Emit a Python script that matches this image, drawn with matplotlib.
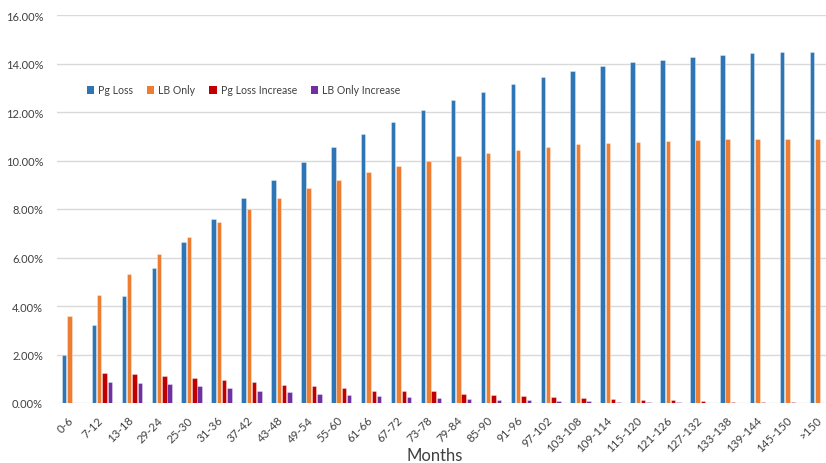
import matplotlib
matplotlib.use("Agg")
import matplotlib.pyplot as plt
import matplotlib.transforms as mtransforms
import numpy as np
from matplotlib.patches import Patch
from matplotlib.ticker import FuncFormatter, MultipleLocator

plt.rcParams['font.family'] = ['Lato', 'DejaVu Sans']

categories = ["0-6", "7-12", "13-18", "29-24", "25-30", "31-36", "37-42", "43-48",
              "49-54", "55-60", "61-66", "67-72", "73-78", "79-84", "85-90", "91-96",
              "97-102", "103-108", "109-114", "115-120", "121-126", "127-132",
              "133-138", "139-144", "145-150", ">150"]

pg_loss = [2.00, 3.22, 4.43, 5.58, 6.62, 7.59, 8.45, 9.21, 9.92, 10.54, 11.08, 11.59,
           12.08, 12.48, 12.82, 13.14, 13.43, 13.68, 13.88, 14.05, 14.14, 14.27,
           14.35, 14.42, 14.46, 14.49]
lb_only = [3.60, 4.46, 5.31, 6.13, 6.86, 7.46, 8.00, 8.47, 8.87, 9.21, 9.53, 9.76,
           10.00, 10.19, 10.32, 10.45, 10.56, 10.67, 10.72, 10.76, 10.82, 10.85,
           10.87, 10.90, 10.90, 10.89]
pg_loss_increase = [0.00, 1.22, 1.19, 1.11, 1.03, 0.95, 0.85, 0.76, 0.70, 0.62, 0.51,
                    0.48, 0.48, 0.39, 0.33, 0.30, 0.26, 0.22, 0.16, 0.14, 0.11, 0.09,
                    0.06, 0.04, 0.04, 0.00]
lb_only_increase = [0.00, 0.85, 0.82, 0.80, 0.72, 0.62, 0.51, 0.46, 0.39, 0.33, 0.27,
                    0.25, 0.22, 0.18, 0.14, 0.11, 0.09, 0.09, 0.06, 0.04, 0.04, 0.01,
                    0.00, 0.00, 0.00, 0.00]

series = [
    ("Pg Loss", pg_loss, "#2E75B6"),
    ("LB Only", lb_only, "#ED7D31"),
    ("Pg Loss Increase", pg_loss_increase, "#C00000"),
    ("LB Only Increase", lb_only_increase, "#7030A0"),
]

fig = plt.figure(figsize=(8.26, 4.64), dpi=100)
ax = fig.add_axes([57 / 826, 60 / 464, 778 / 826, 388 / 464])

x = np.arange(len(categories))
pitch = 0.177
width = 0.15
for i, (name, vals, color) in enumerate(series):
    ax.bar(x + (i - 1.5) * pitch, vals, width=width, color=color,
           edgecolor=(1, 1, 1, 0.6), linewidth=0.4, zorder=3)

ax.set_xlim(-0.5, len(categories) - 0.5)
ax.set_ylim(0, 16)
ax.yaxis.set_major_locator(MultipleLocator(2))
ax.yaxis.set_major_formatter(FuncFormatter(lambda v, p: f"{v:.2f}%"))
ax.grid(axis='y', color='#D9D9D9', linewidth=1.0, zorder=0)
ax.set_axisbelow(True)
for s in ax.spines.values():
    s.set_visible(False)

ax.set_xticks(x)
ax.set_xticklabels(categories, rotation=45, ha='right', rotation_mode='anchor')
ax.tick_params(axis='both', length=0, labelsize=8, colors='#404040')
ax.tick_params(axis='x', labelsize=8.3, pad=8)
ax.tick_params(axis='y', pad=10)

# nudge the rotated category labels slightly left
shift = mtransforms.ScaledTranslation(-3 / 72, 0, fig.dpi_scale_trans)
for lbl in ax.get_xticklabels():
    lbl.set_transform(lbl.get_transform() + shift)

ax.set_xlabel("Months", fontsize=12, color='#404040')
ax.xaxis.set_label_coords((435 - 57) / 778, -44 / 388)

handles = [Patch(facecolor=c, edgecolor='none', label=n) for n, _, c in series]
ax.legend(handles=handles, ncol=4, frameon=False, fontsize=7.6,
          loc='center left', bbox_to_anchor=(20 / 778, (404 - 91) / 388),
          handlelength=0.7, handleheight=0.7, handletextpad=0.4,
          columnspacing=1.3, labelcolor='#404040')

fig.savefig("out.png", dpi=100)
